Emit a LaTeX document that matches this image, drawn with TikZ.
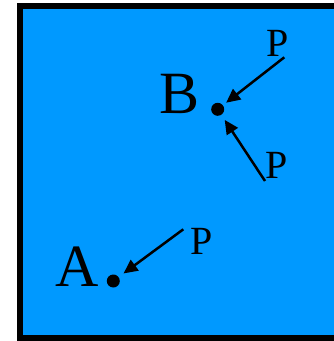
\documentclass[tikz,border=0pt]{standalone}
\usepackage{fontspec}
\setmainfont{Liberation Serif}
\usetikzlibrary{arrows.meta}
\definecolor{panel}{RGB}{0,153,255}
\begin{document}
\begin{tikzpicture}[x=1pt,y=-1pt,
  big/.style={inner sep=0pt,anchor=base,font=\fontsize{60}{60}\selectfont},
  plabel/.style={inner sep=0pt,anchor=base,font=\fontsize{40}{40}\selectfont},
  pt/.style={circle,fill=black,inner sep=0pt,minimum size=13pt},
  force/.style={line width=2.5pt,-{Triangle[length=14pt,width=13pt]}}]
\useasboundingbox (0,0) rectangle (334,341);
\draw[line width=6pt,fill=panel] (20,6) rectangle (345,338);
\node[pt] (dotB) at (217.7,109.3) {};
\node[pt] (dotA) at (113.3,281) {};
\node[big] (B) at (180,113) {B};
\node[big] (A) at (77,286) {A};
\node[plabel] (P1) at (277.5,56.7) {P};
\node[plabel] (P2) at (276.5,178.3) {P};
\node[plabel] (P3) at (202,254) {P};
\coordinate (t1) at (284.3,57.3);
\coordinate (t2) at (265,181);
\coordinate (t3) at (183.3,229.3);
\draw[force,shorten >=4pt] (t1) -- (dotB);
\draw[force,shorten >=6pt] (t2) -- (dotB);
\draw[force,shorten >=6pt] (t3) -- (dotA);
\end{tikzpicture}
\end{document}
